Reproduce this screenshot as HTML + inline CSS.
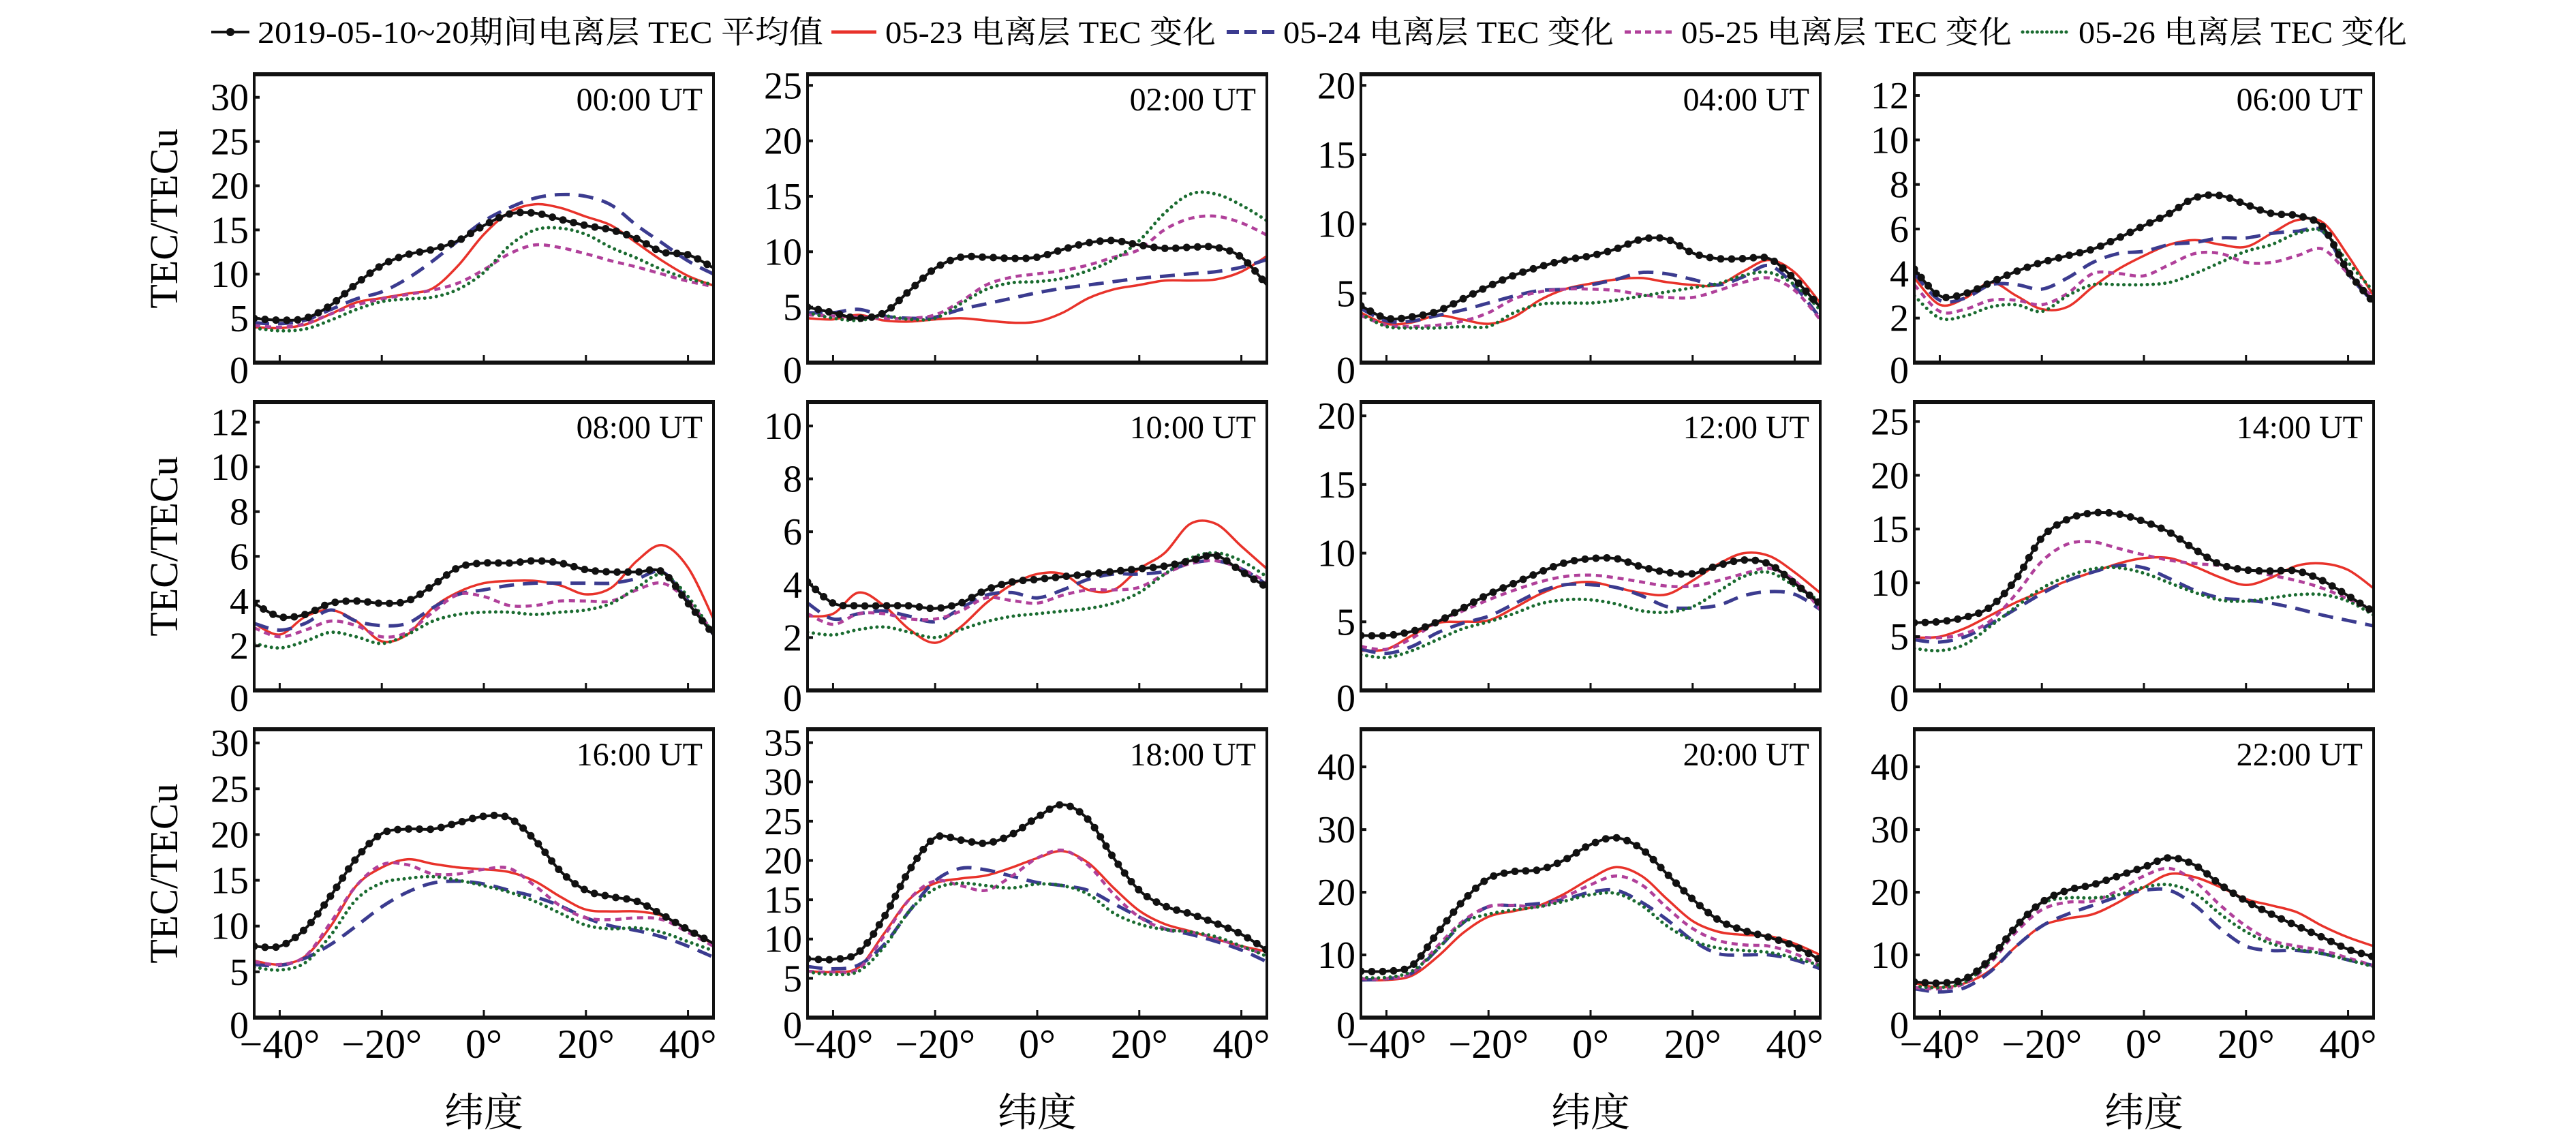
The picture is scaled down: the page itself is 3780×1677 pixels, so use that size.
<!DOCTYPE html>
<html><head><meta charset="utf-8">
<style>
html,body{margin:0;padding:0;background:#fff;}
svg{display:block;font-family:"Liberation Serif","Noto Serif CJK SC","Noto Sans CJK SC",serif;}
</style></head>
<body>
<svg id="chart" xmlns="http://www.w3.org/2000/svg" width="3780" height="1677" viewBox="0 0 3780 1677">
<rect x="0" y="0" width="3780" height="1677" fill="#fff"/>
<g id="legend">
  <g>
    <line x1="310" y1="47" x2="366" y2="47" stroke="#111" stroke-width="4"/>
    <circle cx="338" cy="47" r="6" fill="#111"/>
    <text x="378" y="63" font-size="46" textLength="830" lengthAdjust="spacingAndGlyphs">2019-05-10~20期间电离层 TEC 平均值</text>
  </g>
  <g>
    <line x1="1220" y1="47" x2="1286" y2="47" stroke="#e8322a" stroke-width="5"/>
    <text x="1299" y="63" font-size="46" textLength="485" lengthAdjust="spacingAndGlyphs">05-23 电离层 TEC 变化</text>
  </g>
  <g>
    <line x1="1800" y1="47" x2="1871" y2="47" stroke="#3b3b8f" stroke-width="6" stroke-dasharray="18 8"/>
    <text x="1883" y="63" font-size="46" textLength="485" lengthAdjust="spacingAndGlyphs">05-24 电离层 TEC 变化</text>
  </g>
  <g>
    <line x1="2384" y1="47" x2="2453" y2="47" stroke="#b0409a" stroke-width="5" stroke-dasharray="9 6"/>
    <text x="2467" y="63" font-size="46" textLength="485" lengthAdjust="spacingAndGlyphs">05-25 电离层 TEC 变化</text>
  </g>
  <g>
    <line x1="2968" y1="47" x2="3039" y2="47" stroke="#1a6b30" stroke-width="5" stroke-dasharray="0.1 7" stroke-linecap="round"/>
    <text x="3050" y="63" font-size="46" textLength="482" lengthAdjust="spacingAndGlyphs">05-26 电离层 TEC 变化</text>
  </g>
</g>
<g id="panels"></g>
</svg>
<script>
// latitude categories
const lats = [-45,-40,-35,-30,-25,-20,-15,-10,-5,0,5,10,15,20,25,30,35,40,45];
const panelTitles = ["00:00 UT","02:00 UT","04:00 UT","06:00 UT","08:00 UT","10:00 UT","12:00 UT","14:00 UT","16:00 UT","18:00 UT","20:00 UT","22:00 UT"];
const yMax = [32.6,26,20.8,12.95,12.9,10.9,21,26.8,31.5,36.7,46,46];
const yStep = [5,5,5,2,2,2,5,5,5,5,10,10];
const yTop = [30,25,20,12,12,10,20,25,30,35,40,40];
const xTicks = [-40,-20,0,20,40];
const xTickLabels = ["\u221240\u00b0","\u221220\u00b0","0\u00b0","20\u00b0","40\u00b0"];

const meanTEC = [
[5.0,4.8,5.0,6.5,8.9,11.0,12.2,12.8,13.8,15.5,16.8,16.9,16.2,15.5,15.0,14.0,12.5,12.2,10.7],
[5.0,4.5,4.0,4.5,6.5,8.5,9.5,9.5,9.4,9.5,10.2,10.8,11.0,10.6,10.3,10.4,10.4,9.5,7.0],
[4.1,3.2,3.3,3.7,4.6,5.5,6.3,6.9,7.4,7.7,8.2,8.9,8.9,7.9,7.5,7.5,7.5,6.0,4.0],
[4.2,3.0,3.1,3.6,4.1,4.5,4.8,5.1,5.6,6.15,6.7,7.4,7.5,7.1,6.7,6.6,6.1,4.1,2.7],
[3.9,3.3,3.4,3.9,4.0,3.9,4.0,4.7,5.5,5.7,5.7,5.8,5.7,5.4,5.3,5.3,5.3,3.9,2.5],
[4.1,3.3,3.2,3.2,3.2,3.1,3.3,3.8,4.1,4.2,4.3,4.4,4.5,4.6,4.7,4.9,5.1,4.5,3.9],
[4.0,4.0,4.3,5.0,6.0,7.0,7.8,8.6,9.3,9.6,9.6,9.0,8.6,8.5,9.1,9.5,9.2,7.8,6.3],
[6.3,6.4,6.8,7.8,10.4,14.2,15.9,16.5,16.4,15.7,14.7,13.1,11.7,11.2,11.1,11.1,10.2,8.8,7.3],
[7.8,7.8,9.7,13.3,17.4,20.1,20.6,20.6,21.3,22.0,21.8,19.4,16.0,13.9,13.2,12.7,11.2,9.6,8.1],
[7.5,7.4,8.3,12.8,18.8,22.9,22.6,22.2,23.3,25.5,27.1,25.2,20.3,16.2,14.2,13.2,12.0,10.6,8.6],
[7.4,7.4,8.3,13.5,18.6,22.2,23.3,23.6,25.2,27.6,28.7,26.9,22.9,18.9,15.6,13.9,12.8,11.4,9.2],
[5.7,5.5,6.2,9.5,14.6,18.4,20.3,21.2,22.6,24.0,25.5,24.3,21.2,18.6,16.5,14.6,12.8,10.9,9.7]
];
const tec0523 = [
[4.0,3.9,4.3,5.5,6.8,7.3,7.8,8.4,11.0,14.5,17.0,17.9,17.5,16.5,15.5,13.5,11.5,9.8,8.7],
[4.0,3.9,4.3,3.8,3.7,3.9,4.0,3.8,3.6,3.7,4.5,5.8,6.6,7.0,7.4,7.4,7.5,8.2,9.6],
[3.6,2.8,2.9,3.4,3.1,2.8,3.3,4.5,5.3,5.7,6.0,6.1,5.8,5.6,5.6,6.6,7.4,6.5,4.3],
[3.8,2.6,2.9,3.6,3.0,2.4,2.5,3.4,4.2,4.8,5.3,5.5,5.3,5.2,5.8,6.4,6.3,4.8,3.0],
[3.0,2.5,3.3,3.6,3.1,2.2,2.5,3.7,4.4,4.8,4.9,4.9,4.7,4.3,4.6,5.8,6.5,5.5,3.2],
[2.8,2.9,3.7,3.2,2.3,1.8,2.4,3.3,4.0,4.4,4.4,3.8,3.8,4.6,5.2,6.3,6.3,5.45,4.6],
[2.9,3.0,4.0,4.9,5.0,5.1,6.0,7.0,7.7,7.9,7.5,7.1,7.0,8.0,9.2,10.0,9.8,8.6,7.1],
[4.9,5.0,5.8,7.0,8.2,9.2,10.2,11.0,11.8,12.3,12.3,11.5,10.5,9.8,10.5,11.6,11.8,11.2,9.5],
[6.2,5.8,6.7,10.0,14.4,16.4,17.3,16.8,16.4,16.2,15.9,14.9,13.2,11.8,11.6,11.6,11.1,9.6,8.0],
[5.9,5.8,6.4,10.7,15.1,17.1,17.7,18.1,19.1,20.3,21.2,19.7,16.5,13.6,11.9,11.0,10.0,9.1,8.4],
[6.0,6.0,6.7,9.7,13.5,16.1,17.0,17.9,19.8,22.2,24.0,22.6,18.9,15.4,13.7,13.2,13.0,11.8,10.0],
[5.5,4.8,5.5,7.6,11.4,14.6,15.8,16.5,18.4,20.8,22.9,22.4,20.8,18.9,17.9,16.8,14.6,12.8,11.4]
];
const tec0524 = [
[4.5,4.4,4.8,6.0,7.2,8.0,9.5,11.5,13.8,16.0,17.5,18.6,19.0,18.8,17.8,15.5,13.5,11.5,10.0],
[4.5,4.5,4.8,4.2,4.0,4.1,4.8,5.3,5.8,6.3,6.7,7.0,7.3,7.6,7.8,8.0,8.2,8.6,9.3],
[3.9,3.0,3.0,3.4,3.8,4.3,4.8,5.2,5.3,5.6,6.0,6.5,6.4,6.0,5.6,6.2,7.0,5.5,3.2],
[4.0,2.8,2.9,3.5,3.5,3.3,3.8,4.5,4.9,5.0,5.3,5.4,5.6,5.6,5.8,5.9,5.9,4.0,2.7],
[3.0,2.7,3.0,3.6,3.1,2.9,3.0,3.7,4.3,4.5,4.7,4.8,4.8,4.8,4.8,5.0,5.3,4.0,2.5],
[3.3,2.7,2.9,3.0,2.8,2.6,3.1,3.6,3.7,3.5,3.8,4.2,4.4,4.4,4.5,4.8,4.9,4.6,4.0],
[3.0,2.7,3.2,4.2,4.9,5.4,6.3,7.2,7.7,7.7,7.5,6.9,6.1,6.0,6.2,6.9,7.2,7.0,5.9],
[4.7,4.5,5.0,6.2,7.6,9.0,10.2,11.0,11.6,11.4,10.4,9.3,8.6,8.4,8.1,7.6,7.0,6.5,6.0],
[5.8,5.7,6.5,8.0,10.0,12.1,13.7,14.7,14.9,14.6,13.9,13.2,12.2,10.9,10.0,9.5,8.8,7.8,6.6],
[6.5,6.2,6.7,9.3,13.6,17.4,19.0,18.8,18.0,17.2,16.8,16.2,14.5,12.8,11.3,10.6,9.7,8.6,7.1],
[6.0,6.2,7.1,10.9,15.1,17.7,17.9,18.2,18.9,20.0,20.3,18.4,15.6,12.3,10.2,10.0,10.0,9.2,7.8],
[4.6,4.1,4.8,7.4,11.4,14.6,16.5,17.9,19.3,20.3,20.3,17.9,14.2,11.4,10.7,10.7,10.2,9.2,8.3]
];
const tec0525 = [
[4.2,4.0,4.4,5.5,6.5,7.2,7.7,8.2,9.0,10.5,12.3,13.3,13.0,12.3,11.5,10.8,10.0,9.2,8.6],
[4.3,4.2,4.1,4.0,4.0,4.3,5.5,7.0,7.7,8.0,8.3,8.8,9.5,10.2,12.0,13.0,13.2,12.6,11.5],
[3.4,2.7,2.6,2.7,3.0,3.6,4.6,5.1,5.3,5.3,5.2,4.9,4.7,4.7,5.2,5.8,6.1,5.2,3.1],
[3.5,2.3,2.4,2.8,2.8,2.6,3.1,4.0,4.0,3.9,4.4,4.9,4.9,4.5,4.5,4.8,5.1,4.0,2.9],
[2.8,2.4,2.7,3.1,2.9,2.4,2.6,3.5,4.3,4.2,3.8,3.8,4.0,4.0,4.0,4.5,4.8,4.0,2.6],
[2.9,2.5,2.9,2.9,2.7,2.7,3.0,3.5,3.4,3.3,3.6,3.8,3.8,3.9,4.4,4.8,4.9,4.6,4.1],
[3.2,3.0,3.8,5.0,5.8,6.6,7.3,7.9,8.3,8.4,8.2,7.9,7.6,7.6,8.0,8.5,8.9,8.0,5.9],
[5.0,4.9,5.3,6.5,9.0,12.0,13.6,13.8,13.2,12.6,12.1,11.8,11.6,11.2,10.7,10.2,9.5,8.5,7.5],
[6.1,5.8,6.7,10.4,14.4,16.7,16.7,15.7,15.7,16.2,16.3,14.4,12.2,10.9,10.7,10.9,10.7,9.3,7.8],
[5.9,5.8,6.2,10.4,15.1,17.4,16.8,16.2,18.0,20.3,21.3,19.4,15.7,12.8,11.3,10.9,10.1,9.0,8.0],
[6.2,6.2,7.1,11.4,15.4,17.7,17.9,17.7,19.3,21.2,22.6,21.2,17.5,14.2,12.3,11.6,11.4,10.2,8.3],
[4.8,4.6,5.5,8.8,13.7,17.2,18.4,18.6,20.3,22.6,23.8,21.7,17.9,14.6,12.3,11.4,10.7,9.5,8.3]
];
const tec0526 = [
[3.9,3.6,3.8,4.8,6.0,6.9,7.2,7.4,8.3,10.2,13.2,15.0,15.2,14.5,13.0,11.8,10.5,9.5,8.8],
[4.5,4.0,3.8,4.2,3.9,4.0,5.3,6.6,7.2,7.3,7.6,8.3,9.3,11.0,13.5,15.2,15.2,14.2,12.8],
[3.5,2.6,2.5,2.5,2.6,2.6,3.6,4.2,4.3,4.3,4.5,4.8,5.1,5.4,5.7,6.3,6.5,5.6,3.8],
[3.0,2.0,2.1,2.5,2.6,2.3,3.0,3.5,3.5,3.5,3.6,4.0,4.5,5.0,5.3,5.8,5.9,4.5,3.2],
[2.1,1.9,2.2,2.6,2.4,2.1,2.5,3.1,3.4,3.5,3.5,3.4,3.5,3.6,3.9,4.6,5.2,4.2,2.5],
[2.2,2.1,2.3,2.4,2.2,2.0,2.3,2.6,2.8,2.9,3.0,3.1,3.3,3.7,4.4,5.0,5.2,4.9,4.3],
[2.6,2.4,2.9,3.7,4.5,5.0,5.6,6.3,6.6,6.6,6.3,5.8,5.7,6.1,7.2,8.3,8.6,7.6,6.5],
[3.9,3.7,4.3,6.0,7.8,9.5,10.6,11.3,11.4,10.9,10.0,9.1,8.4,8.3,8.6,8.9,8.9,8.3,7.0],
[5.5,5.2,6.0,9.0,12.9,14.7,15.2,15.4,15.0,14.4,13.7,12.7,11.4,10.1,9.7,9.8,9.3,8.3,7.3],
[5.8,5.5,5.9,9.0,13.6,16.4,17.1,16.8,16.5,17.0,16.8,15.7,13.3,11.9,11.2,10.9,10.3,9.1,7.8],
[6.4,6.4,7.4,10.9,15.1,16.5,17.2,17.7,18.6,19.6,19.8,17.9,14.6,12.3,11.1,10.7,10.4,9.5,8.3],
[5.0,4.8,5.7,9.2,14.6,18.2,19.1,19.1,19.6,20.8,21.2,19.8,16.5,13.7,11.8,10.9,10.2,9.2,8.1]
];

const NS = "http://www.w3.org/2000/svg";
const colLeft = [373,1185,1997,2809];
const rowTop = [109,590,1070];
const PW = 674, PH = 423;
const root = document.getElementById('panels');

function mk(tag, attrs, parent){
  const e = document.createElementNS(NS, tag);
  for (const k in attrs) e.setAttribute(k, attrs[k]);
  if (parent) parent.appendChild(e);
  return e;
}
function smoothPath(pts){
  let d = "M" + pts[0][0].toFixed(1) + "," + pts[0][1].toFixed(1);
  for (let i=0;i<pts.length-1;i++){
    const p0 = pts[i-1]||pts[i], p1 = pts[i], p2 = pts[i+1], p3 = pts[i+2]||p2;
    const c1x = p1[0] + (p2[0]-p0[0])/6, c1y = p1[1] + (p2[1]-p0[1])/6;
    const c2x = p2[0] - (p3[0]-p1[0])/6, c2y = p2[1] - (p3[1]-p1[1])/6;
    d += " C"+c1x.toFixed(1)+","+c1y.toFixed(1)+" "+c2x.toFixed(1)+","+c2y.toFixed(1)+" "+p2[0].toFixed(1)+","+p2[1].toFixed(1);
  }
  return d;
}
const seriesDefs = [
  {arr: tec0523, name: 'line-0523', color:'#e8322a', w:3.5, dash:null, cap:'butt'},
  {arr: tec0524, name: 'line-0524', color:'#3b3b8f', w:5, dash:'22 13', cap:'butt'},
  {arr: tec0525, name: 'line-0525', color:'#b0409a', w:4.5, dash:'9 7', cap:'butt'},
  {arr: tec0526, name: 'line-0526', color:'#1a6b30', w:5, dash:'0.1 8.5', cap:'round'},
  {arr: meanTEC, name: 'line-mean', color:'#111', w:4, dash:null, cap:'butt'}
];

for (let p=0;p<12;p++){
  const r = Math.floor(p/4), c = p%4;
  const L = colLeft[c], T = rowTop[r], B = T+PH, R = L+PW;
  const xS = v => L + (v+45)/90*PW;
  const yS = v => B - v/yMax[p]*PH;
  const g = mk('g', {}, root);
  
  
  const clipId = 'clip'+p;
  const cp = mk('clipPath', {id: clipId}, g);
  mk('rect', {x:L, y:T, width:PW, height:PH}, cp);
  const sg = mk('g', {'clip-path':'url(#'+clipId+')'}, g);
  seriesDefs.forEach(sd => {
    const pts = lats.map((la,i)=>[xS(la), yS(sd.arr[p][i])]);
    const path = mk('path', {d: smoothPath(pts), fill:'none', stroke: sd.color, 'stroke-width': sd.w, 'stroke-linecap': sd.cap, 'stroke-linejoin':'round'}, sg);
    if (sd.dash) path.setAttribute('stroke-dasharray', sd.dash);
    
    
    if (sd.name === 'line-mean'){
      const len = path.getTotalLength();
      for (let s=0; s<=len; s+=16){
        const pt = path.getPointAtLength(s);
        const m = mk('circle', {cx: pt.x.toFixed(1), cy: pt.y.toFixed(1), r: 5.5, fill:'#111'}, sg);
        
        
      }
    }
  });
  const fr = mk('rect', {x:L, y:T, width:PW, height:PH, fill:'none', stroke:'#111', 'stroke-width':4}, g);
  
  
  mk('line', {x1:L-2, y1:T, x2:R+2, y2:T, stroke:'#111', 'stroke-width':6}, g);
  mk('line', {x1:L-2, y1:B, x2:R+2, y2:B, stroke:'#111', 'stroke-width':6}, g);
  xTicks.forEach((t,i)=>{
    mk('line', {x1:xS(t), y1:B, x2:xS(t), y2:B-11, stroke:'#111', 'stroke-width':3}, g);
    if (r===2){
      const tx = mk('text', {x: xS(t), y: 1552, 'font-size':60, 'text-anchor':'middle'}, g);
      tx.textContent = xTickLabels[i];
      
      
    }
  });
  for (let v=0; v<=yTop[p]+1e-9; v+=yStep[p]){
    const y = yS(v);
    if (v>0) mk('line', {x1:L, y1:y, x2:L+8, y2:y, stroke:'#111', 'stroke-width':4}, g);
    const ty = mk('text', {x: L-8, y: y + (v===0 ? 30 : 19), 'font-size':56, 'text-anchor':'end'}, g);
    ty.textContent = String(v);
    
    
  }
  const tt = mk('text', {x: R-16, y: T+53, 'font-size':48, 'text-anchor':'end'}, g);
  tt.textContent = panelTitles[p];
  
  
  if (c===0){
    const cy = T + PH/2;
    const yl = mk('text', {x: 0, y: 0, 'font-size':58, 'text-anchor':'middle', transform:'translate(260,'+cy+') rotate(-90)'}, g);
    yl.textContent = 'TEC/TECu';
    
    
  }
  if (r===2){
    const xl = mk('text', {x: L+PW/2, y: 1652, 'font-size':58, 'text-anchor':'middle'}, g);
    xl.textContent = '纬度';
    
    
  }
}
</script>
</body></html>
